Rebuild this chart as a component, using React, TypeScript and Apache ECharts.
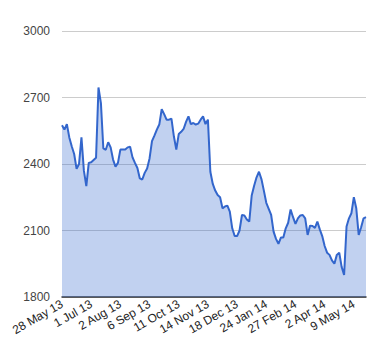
import React, { useEffect, useRef } from "react";
import * as echarts from "echarts";

// Tick labels, one every 24 trading days
const tickLabels: string[] = [
  "28 May 13", "1 Jul 13", "2 Aug 13", "6 Sep 13", "11 Oct 13", "14 Nov 13",
  "18 Dec 13", "24 Jan 14", "27 Feb 14", "2 Apr 14", "9 May 14",
];
const tickStep = 24; // trading days between labels
const sampleStep = 2; // trading days between samples

// Closing values, sampled every 2 trading days
const values: number[] = [
  2575, 2555, 2580, 2520, 2480, 2445, 2378, 2400, 2520, 2370,
  2300, 2405, 2408, 2418, 2428, 2745, 2675, 2470, 2464, 2498,
  2475, 2420, 2388, 2405, 2465, 2465, 2465, 2475, 2478, 2430,
  2405, 2382, 2335, 2330, 2360, 2380, 2425, 2503, 2528, 2555,
  2578, 2647, 2625, 2600, 2600, 2605, 2525, 2465, 2535, 2545,
  2558, 2590, 2615, 2580, 2585, 2578, 2582, 2600, 2615, 2580,
  2600, 2365, 2310, 2280, 2260, 2250, 2200, 2208, 2212, 2185,
  2110, 2075, 2075, 2100, 2170, 2168, 2150, 2140, 2258, 2302,
  2340, 2365, 2332, 2280, 2225, 2198, 2170, 2095, 2062, 2040,
  2068, 2068, 2110, 2135, 2195, 2160, 2130, 2155, 2168, 2170,
  2155, 2080, 2122, 2120, 2112, 2140, 2105, 2075, 2030, 2000,
  1990, 1965, 1950, 1990, 2000, 1935, 1900, 2118, 2155, 2178,
  2250, 2200, 2080, 2115, 2155, 2160,
];

const yMin = 1800;
const yMax = 3000;
const yStep = 300;

export default function App() {
  const ref = useRef<HTMLDivElement>(null);

  useEffect(() => {
    if (!ref.current) return;
    const chart = echarts.init(ref.current, null, { renderer: "svg" });
    const seriesData = values.map((v, i) => [i * sampleStep, v]);
    const xMax = (values.length - 1) * sampleStep;
    chart.setOption({
      animation: false,
      backgroundColor: "#ffffff",
      textStyle: { fontFamily: "'Liberation Sans', Arial, sans-serif" },
      grid: { left: 62, right: 14, top: 31, bottom: 63 },
      xAxis: {
        type: "value",
        min: 0,
        max: xMax,
        interval: tickStep,
        axisLine: { show: true, onZero: false, lineStyle: { color: "#333333", width: 1.5 } },
        axisTick: { show: false },
        splitLine: { show: false },
        axisLabel: {
          rotate: 30,
          fontSize: 12,
          color: "#222222",
          margin: 6,
          showMaxLabel: false,
          formatter: (v: number) => {
            const idx = Math.round(v / tickStep);
            return v % tickStep === 0 && tickLabels[idx] ? tickLabels[idx] : "";
          },
        },
      },
      yAxis: {
        type: "value",
        min: yMin,
        max: yMax,
        interval: yStep,
        axisLine: { show: false },
        axisTick: { show: false },
        splitLine: { lineStyle: { color: "#cccccc", width: 1 } },
        axisLabel: {
          fontSize: 12,
          color: "#444444",
          margin: 12,
          formatter: (v: number) => String(v),
        },
      },
      series: [
        {
          type: "line",
          data: seriesData,
          showSymbol: false,
          symbol: "none",
          lineStyle: { color: "#3366cc", width: 2 },
          itemStyle: { color: "#3366cc" },
          areaStyle: { color: "#3366cc", opacity: 0.3 },
        },
      ],
    });
    return () => chart.dispose();
  }, []);

  return (
    <div
      ref={ref}
      style={{ position: "fixed", left: 0, top: 0, width: 380, height: 360 }}
    />
  );
}
